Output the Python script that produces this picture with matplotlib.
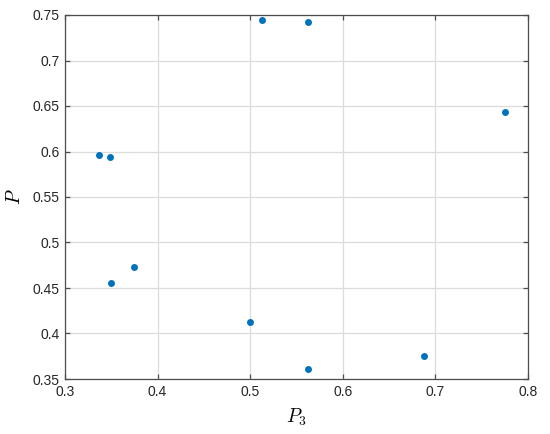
import numpy as np
import matplotlib
matplotlib.use("Agg")
from matplotlib import pyplot as plt

# Значения
p3 = [0.337, 0.349, 0.3493, 0.3745, 0.500, 0.5124, 0.5624, 0.5624, 0.6877, 0.7755]
p = [0.596, 0.594, 0.4552, 0.473, 0.4123, 0.744, 0.742, 0.361, 0.3753, 0.6434]

xticks = [0.3, 0.4, 0.5, 0.6, 0.7, 0.8]
yticks = [0.35, 0.4, 0.45, 0.5, 0.55, 0.6, 0.65, 0.7, 0.75]
xticklabels = ['0.3', '0.4', '0.5', '0.6', '0.7', '0.8']
yticklabels = ['0.35', '0.4', '0.45', '0.5', '0.55', '0.6', '0.65', '0.7', '0.75']

plt.rcParams['font.family'] = ['Liberation Sans', 'DejaVu Sans']
plt.rcParams['mathtext.fontset'] = 'cm'

fig = plt.figure(figsize=(5.5, 4.34), dpi=100)
ax = fig.add_axes([65 / 550, 55 / 434, 463 / 550, 364 / 434])

ax.plot(p3, p, 'o', color='#0072BD', markersize=5, markeredgewidth=0, zorder=3)

ax.set_xlim(0.3, 0.8)
ax.set_ylim(0.35, 0.75)
ax.set_xticks(xticks)
ax.set_xticklabels(xticklabels)
ax.set_yticks(yticks)
ax.set_yticklabels(yticklabels)

ax.grid(True, color='#dcdcdc', linewidth=0.9)
ax.set_axisbelow(True)
for s in ax.spines.values():
    s.set_color('#4d4d4d')
    s.set_linewidth(0.9)
ax.tick_params(direction='in', length=3.5, width=0.9, color='#4d4d4d',
               labelsize=10, labelcolor='#262626', top=True, right=True, pad=4)

ax.set_xlabel('$P_3$', fontsize=14, labelpad=6)
ax.set_ylabel('$P$', fontsize=14, labelpad=6)

fig.savefig('out.png', dpi=100)
